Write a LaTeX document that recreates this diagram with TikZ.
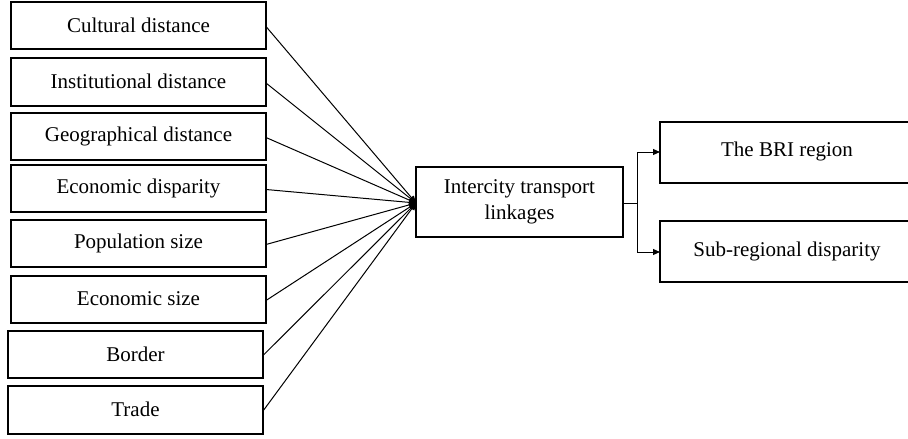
\documentclass[tikz,border=0pt]{standalone}
\usepackage{fontspec}
\setmainfont{Liberation Serif}
\usetikzlibrary{arrows.meta}
\begin{document}
\begin{tikzpicture}[x=1pt,y=-1pt,
  box/.style={draw,line width=1.2pt,inner sep=0pt},
  conn/.style={line width=1pt,-{Triangle[length=7pt,width=6pt]}},
  lbl/.style={font=\fontsize{21}{26}\selectfont,align=center,inner sep=0pt}]
\useasboundingbox (0,0) rectangle (908,439);
\foreach \n/\xa/\ya/\xb/\yb/\t in {
  c1/11/2/266/49/Cultural distance,
  c2/11/58/266/106/Institutional distance,
  c3/11/113/266/160/Geographical distance,
  c4/11/165/266/212/Economic disparity,
  c5/11/220/266/267/Population size,
  c6/11/276/266/323/Economic size,
  c7/8/331/263/378/Border,
  c8/8/386/263/434/Trade}{
  \draw[box] (\xa,\ya) rectangle (\xb,\yb);
  \node[lbl] (\n) at ({(\xa+\xb)/2},{(\ya+\yb)/2-0.5}) {\t};
  \coordinate (\n r) at (\xb,{(\ya+\yb)/2+1});
}
\draw[box] (416,167) rectangle (623,237);
\node[lbl] (itl) at (519.5,202) {Intercity transport\\linkages};
\coordinate (itlw) at (416,203);
\coordinate (itle) at (623,203);
\foreach \n in {c1,c2,c3,c4,c5,c6,c7,c8}{
  \draw[conn] (\n r) -- (itlw);
}
\draw[box] (912,122) -- (660,122) -- (660,183) -- (912,183);
\node[lbl] (bri) at (787,151) {The BRI region};
\draw[box] (912,221) -- (660,221) -- (660,282) -- (912,282);
\node[lbl] (sub) at (787,251) {Sub-regional disparity};
\coordinate (bril) at (660,152);
\coordinate (subl) at (660,252);
\coordinate (fork) at (637,203);
\draw[line width=1pt] (itle) -- (fork);
\draw[conn] (fork) |- (bril);
\draw[conn] (fork) |- (subl);
\end{tikzpicture}
\end{document}
